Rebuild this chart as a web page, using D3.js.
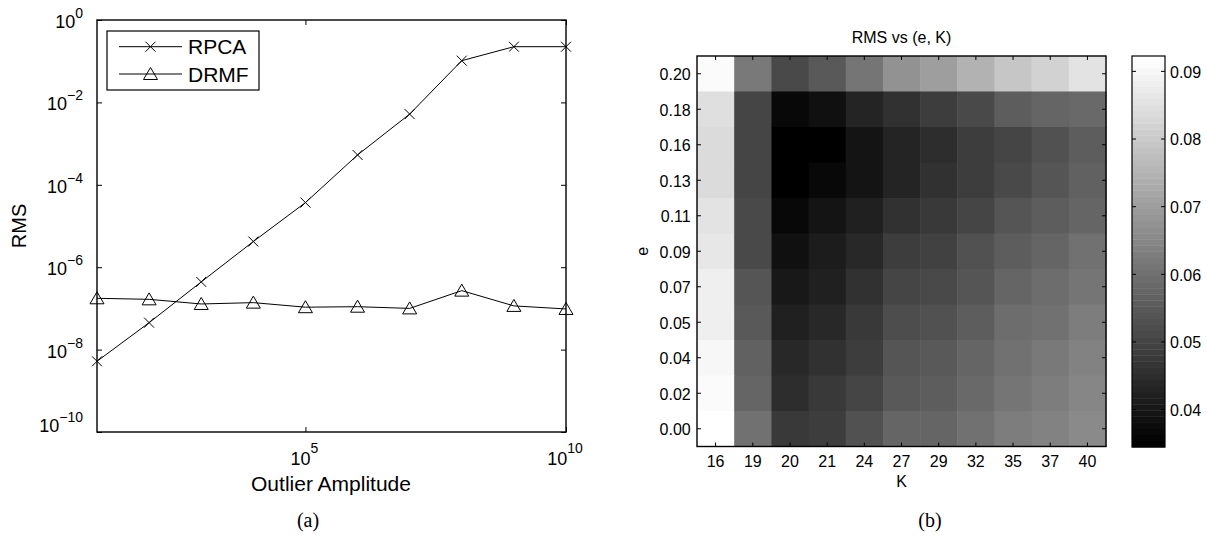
<!DOCTYPE html>
<html>
<head>
<meta charset="utf-8">
<script src="https://cdn.jsdelivr.net/npm/d3@7"></script>
<style>
  body { margin: 0; background: #fff; }
  svg { display: block; }
  text { font-family: "Liberation Sans", Arial, Helvetica, sans-serif; fill: #000; }
</style>
</head>
<body>
<svg id="fig" width="1207" height="537"></svg>
<script>
// ---- Panel (a): RMS against outlier amplitude ----
const amplitude = [1e1, 1e2, 1e3, 1e4, 1e5, 1e6, 1e7, 1e8, 1e9, 1e10];
const rpcaRms = [5.2e-9, 4.5e-8, 4.4e-7, 4.2e-6, 3.7e-5, 5.3e-4, 5.2e-3, 1.03e-1, 2.25e-1, 2.25e-1];
const drmfRms = [1.76e-7, 1.66e-7, 1.28e-7, 1.38e-7, 1.07e-7, 1.10e-7, 1.00e-7, 2.70e-7, 1.15e-7, 9.7e-8];
const seriesNames = ["RPCA", "DRMF"];
const ampTicks = [1e5, 1e10];
const rmsTicks = [1e0, 1e-2, 1e-4, 1e-6, 1e-8, 1e-10];

// ---- Panel (b): RMS over (e, K) ----
const kValues = [16, 19, 20, 21, 24, 27, 29, 32, 35, 37, 40];
const eLabels = ["0.20", "0.18", "0.16", "0.13", "0.11", "0.09", "0.07", "0.05", "0.04", "0.02", "0.00"];
// one row per e (top to bottom as listed above), one column per K
const rmsGrid = [
  [0.0911, 0.0616, 0.0514, 0.0550, 0.0614, 0.0677, 0.0698, 0.0748, 0.0788, 0.0816, 0.0852],
  [0.0843, 0.0505, 0.0369, 0.0387, 0.0430, 0.0460, 0.0480, 0.0512, 0.0553, 0.0571, 0.0584],
  [0.0836, 0.0503, 0.0344, 0.0353, 0.0398, 0.0426, 0.0448, 0.0480, 0.0503, 0.0525, 0.0553],
  [0.0836, 0.0503, 0.0344, 0.0364, 0.0398, 0.0430, 0.0457, 0.0480, 0.0512, 0.0534, 0.0562],
  [0.0856, 0.0507, 0.0369, 0.0392, 0.0417, 0.0453, 0.0471, 0.0500, 0.0534, 0.0553, 0.0571],
  [0.0863, 0.0512, 0.0387, 0.0408, 0.0439, 0.0480, 0.0494, 0.0525, 0.0557, 0.0575, 0.0598],
  [0.0879, 0.0537, 0.0405, 0.0421, 0.0455, 0.0498, 0.0510, 0.0541, 0.0578, 0.0589, 0.0609],
  [0.0884, 0.0548, 0.0417, 0.0439, 0.0476, 0.0521, 0.0530, 0.0557, 0.0589, 0.0605, 0.0625],
  [0.0895, 0.0566, 0.0435, 0.0455, 0.0487, 0.0539, 0.0546, 0.0575, 0.0602, 0.0621, 0.0634],
  [0.0906, 0.0575, 0.0448, 0.0473, 0.0505, 0.0548, 0.0557, 0.0584, 0.0612, 0.0625, 0.0643],
  [0.0922, 0.0598, 0.0473, 0.0484, 0.0525, 0.0571, 0.0575, 0.0602, 0.0625, 0.0634, 0.0652]
];
const cbarTicks = [0.04, 0.05, 0.06, 0.07, 0.08, 0.09];

const svg = d3.select("#fig");
svg.append("rect").attr("width", 1207).attr("height", 537).attr("fill", "#fff");

function tidyAxis(g, size) {
  g.attr("font-family", null).attr("font-size", size);
  g.select(".domain").remove();
  g.selectAll(".tick line").attr("stroke", "#000");
  return g;
}

// =============== (a) ===============
const A = { x0: 97, x1: 566, y0: 20, y1: 432 };
const x = d3.scaleLog().domain([1e1, 1e10]).range([A.x0, A.x1]);
const y = d3.scaleLog().domain([1e-10, 1e0]).range([A.y1, A.y0]);
const pa = svg.append("g");

// inward ticks on all four sides
tidyAxis(pa.append("g").attr("transform", `translate(0,${A.y1})`)
  .call(d3.axisBottom(x).tickValues(ampTicks).tickSize(-5).tickFormat(() => "")), 18);
tidyAxis(pa.append("g").attr("transform", `translate(0,${A.y0})`)
  .call(d3.axisTop(x).tickValues(ampTicks).tickSize(-5).tickFormat(() => "")), 18);
tidyAxis(pa.append("g").attr("transform", `translate(${A.x0},0)`)
  .call(d3.axisLeft(y).tickValues(rmsTicks).tickSize(-5).tickFormat(() => "")), 18);
tidyAxis(pa.append("g").attr("transform", `translate(${A.x1},0)`)
  .call(d3.axisRight(y).tickValues(rmsTicks).tickSize(-5).tickFormat(() => "")), 18);

pa.append("rect").attr("x", A.x0).attr("y", A.y0)
  .attr("width", A.x1 - A.x0).attr("height", A.y1 - A.y0)
  .attr("fill", "none").attr("stroke", "#000").attr("stroke-width", 1.4);

const expText = d => {
  const p = Math.round(Math.log10(d));
  return p < 0 ? "\u2212" + Math.abs(p) : String(p);
};
function powerLabel(sel, expDy) {
  sel.each(function (d) {
    const t = d3.select(this);
    t.append("tspan").attr("font-size", 18).text("10");
    t.append("tspan").attr("font-size", 14).attr("dy", expDy).text(expText(d));
  });
}

pa.selectAll("text.ylab").data(rmsTicks).join("text")
  .attr("class", "ylab")
  .attr("x", A.x0 - 14)
  .attr("y", d => Math.min(y(d) + 8, A.y1))
  .attr("text-anchor", "end")
  .call(powerLabel, -10);

pa.selectAll("text.xlab").data(ampTicks).join("text")
  .attr("class", "xlab")
  .attr("x", d => x(d) - 1)
  .attr("y", A.y1 + 33)
  .attr("text-anchor", "middle")
  .call(powerLabel, -12);

pa.append("text").attr("transform", `translate(26,${(A.y0 + A.y1) / 2}) rotate(-90)`)
  .attr("text-anchor", "middle").attr("font-size", 20).text("RMS");
pa.append("text").attr("x", 331).attr("y", 491)
  .attr("text-anchor", "middle").attr("font-size", 21).text("Outlier Amplitude");

const line = d3.line().x((d, i) => x(amplitude[i])).y(d => y(d));
const crossPath = "M-5,-5L5,5M-5,5L5,-5";
const triPath = "M0,-6.5L7,5.5L-7,5.5Z";

pa.append("path").datum(rpcaRms).attr("d", line)
  .attr("fill", "none").attr("stroke", "#000").attr("stroke-width", 1);
pa.append("path").datum(drmfRms).attr("d", line)
  .attr("fill", "none").attr("stroke", "#000").attr("stroke-width", 1);

pa.selectAll("path.rpca").data(rpcaRms).join("path").attr("class", "rpca")
  .attr("transform", (d, i) => `translate(${x(amplitude[i])},${y(d)})`)
  .attr("d", crossPath).attr("fill", "none").attr("stroke", "#000").attr("stroke-width", 1);
pa.selectAll("path.drmf").data(drmfRms).join("path").attr("class", "drmf")
  .attr("transform", (d, i) => `translate(${x(amplitude[i])},${y(d)})`)
  .attr("d", triPath).attr("fill", "none").attr("stroke", "#000").attr("stroke-width", 1);

// legend
const lg = pa.append("g");
lg.append("rect").attr("x", 107).attr("y", 31).attr("width", 152).attr("height", 59)
  .attr("fill", "#fff").attr("stroke", "#000").attr("stroke-width", 1.2);
const marks = [crossPath, triPath];
seriesNames.forEach((name, i) => {
  const ly = 46.7 + i * 27.3;
  lg.append("line").attr("x1", 119).attr("x2", 182).attr("y1", ly).attr("y2", ly)
    .attr("stroke", "#000").attr("stroke-width", 1);
  lg.append("path").attr("transform", `translate(150.5,${ly})`).attr("d", marks[i])
    .attr("fill", "none").attr("stroke", "#000").attr("stroke-width", 1);
  lg.append("text").attr("x", 188).attr("y", ly + 7.5).attr("font-size", 21).text(name);
});

svg.append("text").attr("x", 308).attr("y", 527).attr("text-anchor", "middle")
  .attr("font-size", 20).style("font-family", "'Liberation Serif', 'Times New Roman', serif")
  .text("(a)");

// =============== (b) ===============
const B = { x0: 697, x1: 1106, y0: 56, y1: 446.5 };
const xb = d3.scaleBand().domain(kValues).range([B.x0, B.x1]);
const yb = d3.scaleBand().domain(eLabels).range([B.y0, B.y1]);
const [vmin, vmax] = d3.extent(rmsGrid.flat());
const levels = 64;
const levelOf = d3.scaleLinear().domain([vmin, vmax]).range([0, levels]);
const grayOf = idx => { const g = Math.round(idx / (levels - 1) * 255); return `rgb(${g},${g},${g})`; };
const colorOf = v => grayOf(Math.max(0, Math.min(levels - 1, Math.floor(levelOf(v)))));

const pb = svg.append("g");
const cells = [];
rmsGrid.forEach((row, r) => row.forEach((v, c) => cells.push({ e: eLabels[r], k: kValues[c], v })));
pb.selectAll("rect.cell").data(cells).join("rect").attr("class", "cell")
  .attr("x", d => xb(d.k)).attr("y", d => yb(d.e))
  .attr("width", xb.bandwidth() + 0.5).attr("height", yb.bandwidth() + 0.5)
  .attr("fill", d => colorOf(d.v));

tidyAxis(pb.append("g").attr("transform", `translate(0,${B.y1})`)
  .call(d3.axisBottom(xb).tickSize(-4).tickPadding(9.5)), 16);
tidyAxis(pb.append("g").attr("transform", `translate(0,${B.y0})`)
  .call(d3.axisTop(xb).tickSize(-4).tickFormat(() => "")), 16);
tidyAxis(pb.append("g").attr("transform", `translate(${B.x0},0)`)
  .call(d3.axisLeft(yb).tickSize(-4).tickPadding(6.3)), 16)
  .selectAll("text").attr("dy", "0.4em");
tidyAxis(pb.append("g").attr("transform", `translate(${B.x1},0)`)
  .call(d3.axisRight(yb).tickSize(-4).tickFormat(() => "")), 16);

pb.append("rect").attr("x", B.x0).attr("y", B.y0)
  .attr("width", B.x1 - B.x0).attr("height", B.y1 - B.y0)
  .attr("fill", "none").attr("stroke", "#000").attr("stroke-width", 1.4);

pb.append("text").attr("x", (B.x0 + B.x1) / 2).attr("y", 43).attr("text-anchor", "middle")
  .attr("font-size", 16).text("RMS vs (e, K)");
pb.append("text").attr("x", (B.x0 + B.x1) / 2).attr("y", 487).attr("text-anchor", "middle")
  .attr("font-size", 16).text("K");
pb.append("text").attr("transform", `translate(648,${(B.y0 + B.y1) / 2}) rotate(-90)`)
  .attr("text-anchor", "middle").attr("font-size", 16).text("e");

// colorbar
const C = { x0: 1132, x1: 1165, y0: 56, y1: 447 };
const cb = d3.scaleLinear().domain([vmin, vmax]).range([C.y1, C.y0]);
const step = (vmax - vmin) / levels;
pb.selectAll("rect.cbar").data(d3.range(levels)).join("rect").attr("class", "cbar")
  .attr("x", C.x0).attr("width", C.x1 - C.x0)
  .attr("y", i => cb(vmin + (i + 1) * step))
  .attr("height", i => cb(vmin + i * step) - cb(vmin + (i + 1) * step) + 0.4)
  .attr("fill", i => grayOf(i));
tidyAxis(pb.append("g").attr("transform", `translate(${C.x1},0)`)
  .call(d3.axisRight(cb).tickValues(cbarTicks).tickSize(-4).tickPadding(5).tickFormat(d3.format(".2f"))), 16)
  .selectAll("text").attr("dy", "0.4em");
tidyAxis(pb.append("g").attr("transform", `translate(${C.x0},0)`)
  .call(d3.axisLeft(cb).tickValues(cbarTicks).tickSize(-4).tickFormat(() => "")), 16);
pb.append("rect").attr("x", C.x0).attr("y", C.y0)
  .attr("width", C.x1 - C.x0).attr("height", C.y1 - C.y0)
  .attr("fill", "none").attr("stroke", "#000").attr("stroke-width", 1.2);

svg.append("text").attr("x", 930).attr("y", 527).attr("text-anchor", "middle")
  .attr("font-size", 20).style("font-family", "'Liberation Serif', 'Times New Roman', serif")
  .text("(b)");
</script>
</body>
</html>
